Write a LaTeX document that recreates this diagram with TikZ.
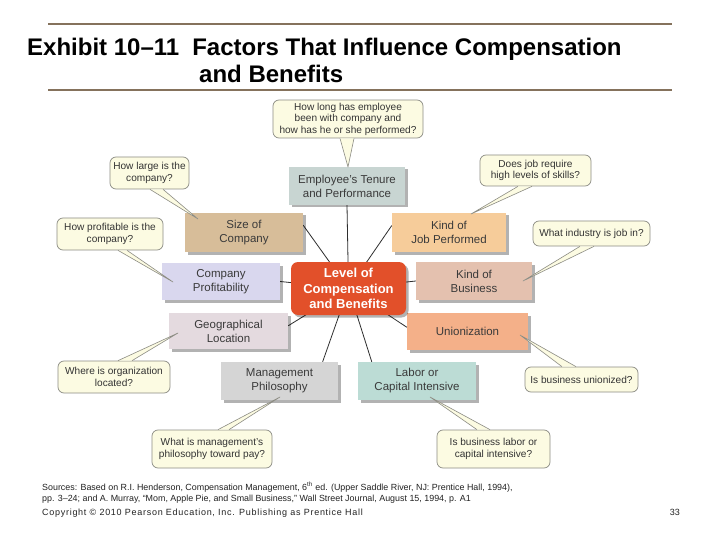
\documentclass[tikz,border=0pt]{standalone}
\usepackage{fontspec}
\setmainfont{Liberation Sans}
\usetikzlibrary{shadows,calc}
\definecolor{rulec}{HTML}{85725C}
\definecolor{boxtext}{HTML}{3A3A3A}
\definecolor{callfill}{HTML}{FCFBE2}
\definecolor{callborder}{HTML}{8C8C84}
\definecolor{calltext}{HTML}{333333}
\definecolor{linkc}{HTML}{2E2E2E}
\definecolor{ctenc}{HTML}{C8D5D2}
\definecolor{csizec}{HTML}{D7BD99}
\definecolor{cjobc}{HTML}{F6CC9A}
\definecolor{cprofc}{HTML}{D9D7EE}
\definecolor{cbusc}{HTML}{E4C1AF}
\definecolor{cgeoc}{HTML}{E4DADF}
\definecolor{cunionc}{HTML}{F4B089}
\definecolor{cmgmtc}{HTML}{D5D5D5}
\definecolor{claborc}{HTML}{BCDCD5}
\definecolor{lvlc}{HTML}{E2502A}
\definecolor{footc}{HTML}{222222}
\pgfdeclarelayer{bg}
\pgfsetlayers{bg,main}
\begin{document}
\begin{tikzpicture}[x=1pt,y=1pt,
  box/.style={rectangle, inner sep=0pt, align=center, font=\fontsize{11.5}{14}\selectfont, text=boxtext,
    drop shadow={shadow xshift=2.5pt, shadow yshift=-2.5pt, opacity=0.3, fill=black}},
  callout/.style={rectangle, rounded corners=6pt, draw=callborder, fill=callfill, line width=0.7pt,
    align=center, font=\fontsize{10.1}{11.6}\selectfont, text=calltext, inner sep=0pt},
  pointer/.style={draw=callborder, fill=callfill, line width=0.6pt, line join=round},
  link/.style={draw=linkc, line width=0.8pt},
  foot/.style={anchor=base west, inner sep=0pt, text=footc}]
\useasboundingbox (0,0) rectangle (720,-540);
\begin{pgfonlayer}{bg}
\fill[white] (0,0) rectangle (720,-540);
\end{pgfonlayer}

% title
\draw[rulec, line width=2pt] (48,-24) -- (672,-24);
\draw[rulec, line width=2pt] (48,-90) -- (672,-90);
\node[anchor=base west, inner sep=0pt, font=\fontsize{24}{28}\selectfont\bfseries] (t1) at (27,-56)
  {Exhibit 10–11\hspace{13pt}Factors That Influence Compensation};
\node[anchor=base west, inner sep=0pt, font=\fontsize{24}{28}\selectfont\bfseries] (t2) at (199,-83)
  {and Benefits};

% factor boxes
\node[box, fill=ctenc, minimum width=116pt, minimum height=38pt] (ten) at (347,-186) {Employee's Tenure\\and Performance};
\node[box, fill=csizec, minimum width=118pt, minimum height=39pt] (size) at (244,-232.5) {Size of\\Company};
\node[box, fill=cjobc, minimum width=114pt, minimum height=39pt] (job) at (449,-232.5) {Kind of\\Job Performed};
\node[box, fill=cprofc, minimum width=118pt, minimum height=37pt] (prof) at (221,-281.5) {Company\\Profitability};
\node[box, fill=cbusc, minimum width=116pt, minimum height=38pt] (bus) at (474,-281) {Kind of\\Business};
\node[box, fill=cgeoc, minimum width=119pt, minimum height=36pt] (geo) at (228.5,-331) {Geographical\\Location};
\node[box, fill=cunionc, minimum width=121pt, minimum height=37pt] (union) at (467.5,-331.5) {Unionization};
\node[box, fill=cmgmtc, minimum width=117pt, minimum height=38pt] (mgmt) at (279.5,-381) {Management\\Philosophy};
\node[box, fill=claborc, minimum width=118pt, minimum height=38pt] (labor) at (417,-381) {Labor or\\Capital Intensive};
\node[box, fill=lvlc, rounded corners=7pt, text=white, font=\fontsize{13}{15.5}\selectfont\bfseries,
  minimum width=115pt, minimum height=53pt] (lvl) at (348.5,-288.5) {Level of\\Compensation\\and Benefits};

% connectors behind boxes
\begin{pgfonlayer}{bg}
\draw[link] (lvl.center) -- (ten.south);
\draw[link] (lvl.center) -- (size.7);
\draw[link] (lvl.center) -- (job.173);
\draw[link] (lvl.center) -- (prof.east);
\draw[link] (lvl.center) -- (bus.west);
\draw[link] (lvl.center) -- (geo.5);
\draw[link] (lvl.center) -- (union.176);
\draw[link] (lvl.center) -- (mgmt.24);
\draw[link] (lvl.center) -- (labor.157);
\end{pgfonlayer}

% callouts
\node[callout, minimum width=150pt, minimum height=38pt] (cten) at (348,-119) {How long has employee\\been with company and\\how has he or she performed?};
\node[callout, minimum width=79pt, minimum height=32pt] (csize) at (149.5,-173) {How large is the\\company?};
\node[callout, minimum width=106pt, minimum height=32pt] (cprof) at (110,-234) {How profitable is the\\company?};
\node[callout, minimum width=111pt, minimum height=31pt] (cjob) at (535.5,-170.5) {Does job require\\high levels of skills?};
\node[callout, minimum width=117pt, minimum height=25pt] (cbus) at (591.5,-233.5) {What industry is job in?};
\node[callout, minimum width=112pt, minimum height=32pt] (cgeo) at (114,-377) {Where is organization\\located?};
\node[callout, minimum width=120pt, minimum height=38pt] (cmgmt) at (212,-449) {What is management's\\philosophy toward pay?};
\node[callout, minimum width=113pt, minimum height=25pt] (cunion) at (581.5,-379.5) {Is business unionized?};
\node[callout, minimum width=113pt, minimum height=38pt] (clabor) at (493.5,-449) {Is business labor or\\capital intensive?};

% pointer tips
\coordinate (pten) at (348,-167);
\coordinate (psize) at (198,-219);
\coordinate (pprof) at (173,-282);
\coordinate (pjob) at (471,-214);
\coordinate (pbus) at (523,-281);
\coordinate (pgeo) at (178,-333);
\coordinate (pmgmt) at (280,-397);
\coordinate (punion) at (520,-335);
\coordinate (plabor) at (430,-397);

\filldraw[pointer] ($(cten.south)+(-8,0)$) -- (pten) -- ($(cten.south)+(6,0)$);
\filldraw[pointer] ($(csize.south)+(0.5,0)$) -- (psize) -- ($(csize.south)+(13.5,0)$);
\filldraw[pointer] ($(cprof.south)+(8,0)$) -- (pprof) -- ($(cprof.south)+(17,0)$);
\filldraw[pointer] ($(cjob.south)+(-17.5,0)$) -- (pjob) -- ($(cjob.south)+(-3.5,0)$);
\filldraw[pointer] ($(cbus.south)+(-11.5,0)$) -- (pbus) -- ($(cbus.south)+(2.5,0)$);
\filldraw[pointer] ($(cgeo.north)+(4,0)$) -- (pgeo) -- ($(cgeo.north)+(18,0)$);
\filldraw[pointer] ($(cmgmt.north)+(6,0)$) -- (pmgmt) -- ($(cmgmt.north)+(17,0)$);
\filldraw[pointer] ($(cunion.north)+(-19.5,0)$) -- (punion) -- ($(cunion.north)+(-5.5,0)$);
\filldraw[pointer] ($(clabor.north)+(-16.5,0)$) -- (plabor) -- ($(clabor.north)+(-3.5,0)$);

% footer
\node[foot, font=\fontsize{8.9}{10}\selectfont] (src1) at (42,-490)
  {Sources: Based on R.I. Henderson, Compensation Management, 6\textsuperscript{th} ed. (Upper Saddle River, NJ: Prentice Hall, 1994),};
\node[foot, font=\fontsize{8.9}{10}\selectfont] (src2) at (42,-501)
  {pp. 3–24; and A. Murray, “Mom, Apple Pie, and Small Business,” Wall Street Journal, August 15, 1994, p. A1};
\node[foot, font=\fontsize{9}{11}\selectfont\addfontfeatures{LetterSpace=8}] (copy) at (42,-515)
  {Copyright © 2010 Pearson Education, Inc. Publishing as Prentice Hall};
\node[foot, anchor=base east, font=\fontsize{9}{11}\selectfont] (pg) at (680,-515) {33};
\end{tikzpicture}
\end{document}
